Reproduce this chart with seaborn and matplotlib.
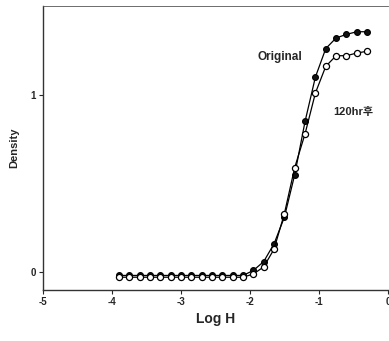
import matplotlib
matplotlib.use("Agg")
import matplotlib.pyplot as plt
import seaborn as sns
import pandas as pd

sns.set_style("white")
plt.rcParams['font.family'] = ['Liberation Sans', 'Noto Sans CJK KR', 'DejaVu Sans']

log_h = [-3.9, -3.75, -3.6, -3.45, -3.3, -3.15, -3.0, -2.85, -2.7, -2.55, -2.4, -2.25, -2.1,
         -1.95, -1.8, -1.65, -1.5, -1.35, -1.2, -1.05, -0.9, -0.75, -0.6, -0.45, -0.3]
original = [-0.018] * 13 + [0.01, 0.06, 0.16, 0.31, 0.55, 0.85, 1.10, 1.26, 1.32, 1.34, 1.355, 1.355]
after120 = [-0.028] * 13 + [-0.01, 0.03, 0.13, 0.33, 0.59, 0.78, 1.01, 1.16, 1.22, 1.22, 1.235, 1.245]
x_ticks = [-5, -4, -3, -2, -1, 0]
y_ticks = [0, 1]

df_o = pd.DataFrame({"x": log_h, "y": original})
df_a = pd.DataFrame({"x": log_h, "y": after120})

fig = plt.figure(figsize=(3.89, 3.41), dpi=100)
ax = fig.add_axes([0.1105, 0.1496, 0.8865, 0.8328])

sns.lineplot(data=df_o, x="x", y="y", ax=ax, color="black", lw=0.9, marker="o",
             markersize=4.2, markerfacecolor="#111111", markeredgecolor="black",
             markeredgewidth=0.8)
sns.lineplot(data=df_a, x="x", y="y", ax=ax, color="black", lw=0.9, marker="o",
             markersize=4.4, markerfacecolor="white", markeredgecolor="black",
             markeredgewidth=0.9)

ax.set_xlim(-5, 0)
ax.set_ylim(-0.1, 1.5)
ax.set_xticks(x_ticks)
ax.set_xticklabels([str(t) for t in x_ticks])
ax.set_yticks(y_ticks)
ax.set_yticklabels([str(t) for t in y_ticks])
ax.tick_params(axis="both", direction="out", length=3, width=0.8, labelsize=7,
               bottom=True, left=True, pad=2)
for lbl in ax.get_xticklabels() + ax.get_yticklabels():
    lbl.set_fontweight("bold")
for s in ["left", "bottom"]:
    ax.spines[s].set_color("#333333")
    ax.spines[s].set_linewidth(1.0)
ax.spines["top"].set_color("#555555")
ax.spines["top"].set_linewidth(0.6)
ax.spines["right"].set_visible(False)

ax.set_xlabel("Log H", fontsize=10, fontweight="bold", labelpad=4)
ax.set_ylabel("Density", fontsize=8, fontweight="bold", labelpad=8)

ax.text(-1.57, 1.21, "Original", fontsize=8.5, fontweight="bold", ha="center", va="center")
ax.text(-0.5, 0.90, "120hr후", fontsize=8, fontweight="bold", ha="center", va="center",
        family=['Liberation Sans', 'Noto Sans CJK KR'])

fig.savefig("out.png", dpi=100)
